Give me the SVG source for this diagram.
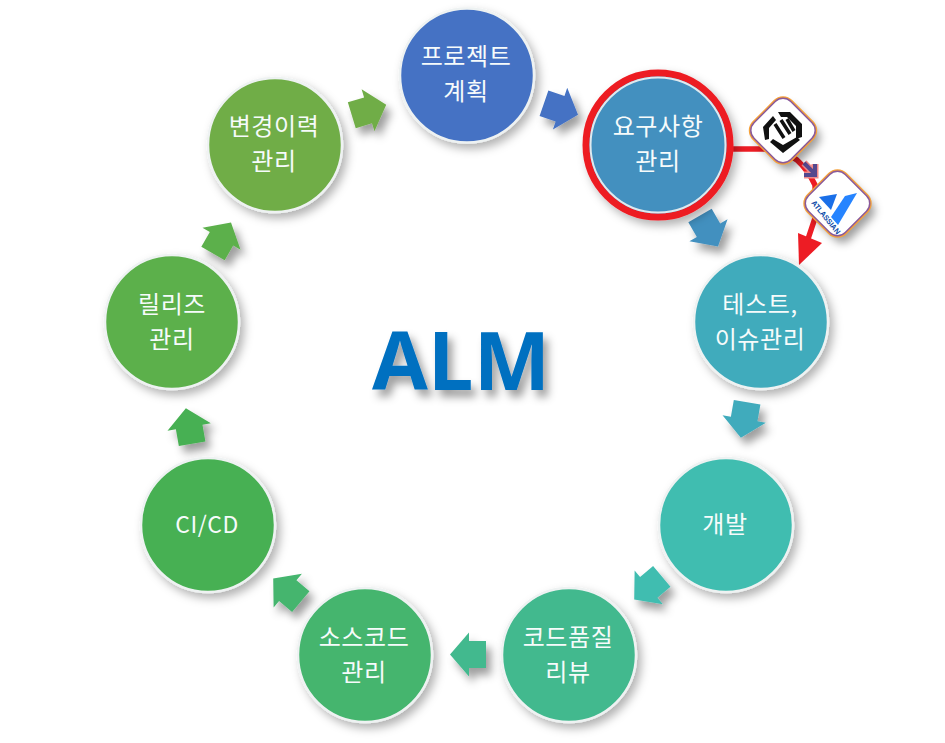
<svg xmlns="http://www.w3.org/2000/svg" width="945" height="743" viewBox="0 0 945 743">
<defs>
<filter id="sh" x="-30%" y="-30%" width="170%" height="170%"><feDropShadow dx="4" dy="5" stdDeviation="5" flood-color="#000" flood-opacity="0.3"/></filter>
<filter id="sht" x="-30%" y="-30%" width="170%" height="170%"><feDropShadow dx="5" dy="7" stdDeviation="4.5" flood-color="#000" flood-opacity="0.38"/></filter>
<path id="arw" d="M-18,-13.5L-1,-13.5L-1,-22L18,0L-1,22L-1,13.5L-18,13.5Z"/>
<style>
text{font-family:"Noto Sans CJK KR","Noto Sans",sans-serif;font-size:24px;font-weight:400;letter-spacing:.6px;fill:#f6fbfb;text-anchor:middle}
.c{stroke:#eef2f2;stroke-width:2.5;filter:url(#sh)}
.a{filter:url(#sht)}
.d{fill:#fff;stroke:#8a5a9a;stroke-width:1.5}
.glow{fill:none;stroke:#f5a13a;stroke-width:4}
</style>
</defs>
<rect width="945" height="743" fill="#fff"/>
<g id="connectors">
<g class="a"><use href="#arw" fill="#70ad47" transform="translate(369,110) rotate(-17)"/></g>
<g class="a"><use href="#arw" fill="#4472c4" transform="translate(561,109) rotate(19)"/></g>
<g class="a"><use href="#arw" fill="#4390bf" transform="translate(709,231) rotate(60)"/></g>
<g class="a"><use href="#arw" fill="#41abbc" transform="translate(744,420) rotate(100)"/></g>
<g class="a"><use href="#arw" fill="#41bdb0" transform="translate(648,588) rotate(140)"/></g>
<g class="a"><use href="#arw" fill="#42b98e" transform="translate(468,654.5) rotate(180)"/></g>
<g class="a"><use href="#arw" fill="#44b56e" transform="translate(287,590) rotate(220)"/></g>
<g class="a"><use href="#arw" fill="#47b052" transform="translate(189,426) rotate(260)"/></g>
<g class="a"><use href="#arw" fill="#5cb04c" transform="translate(222,238) rotate(300)"/></g>
<path d="M731,149H768Q785,151 797,160Q808,170 815,185L816,215L807,242" fill="none" stroke="#ed1c24" stroke-width="5.5"/>
<path d="M798,233L822,243L799,265Z" fill="#ed1c24"/>
<path d="M804,163L815,174M815,164V175H804" fill="none" stroke="#f08a8a" stroke-width="7"/>
<path d="M804,163L815,174M815,164V175H804" fill="none" stroke="#54488e" stroke-width="4"/>
</g>
<g id="n1"><circle class="c" cx="467" cy="75.500" r="67" fill="#4472c4"/><text x="466" y="65">프로젝트</text><text x="466" y="100">계획</text></g>
<g id="n2"><circle class="c" cx="658" cy="145" r="72" fill="#4390bf" style="stroke:#ed1c24;stroke-width:7"/><circle cx="658" cy="145" r="67.500" fill="#4390bf" stroke="#dfe9ee" stroke-width="2"/><text x="658" y="135">요구사항</text><text x="658" y="170">관리</text></g>
<g id="n3"><circle class="c" cx="761" cy="322" r="67" fill="#41abbc"/><text x="760" y="313">테스트,</text><text x="760" y="348">이슈관리</text></g>
<g id="n4"><circle class="c" cx="726" cy="525" r="67" fill="#41bdb0"/><text x="725" y="533">개발</text></g>
<g id="n5"><circle class="c" cx="569" cy="655" r="67" fill="#42b98e"/><text x="568" y="646">코드품질</text><text x="568" y="681">리뷰</text></g>
<g id="n6"><circle class="c" cx="365" cy="655" r="67" fill="#44b56e"/><text x="364" y="646">소스코드</text><text x="364" y="681">관리</text></g>
<g id="n7"><circle class="c" cx="208" cy="525" r="67" fill="#47b052"/><text x="207" y="533" style="font-size:23px">CI/CD</text></g>
<g id="n8"><circle class="c" cx="172" cy="322" r="67" fill="#5cb04c"/><text x="172" y="313">릴리즈</text><text x="172" y="348">관리</text></g>
<g id="n9"><circle class="c" cx="275" cy="145" r="67" fill="#70ad47"/><text x="274" y="135">변경이력</text><text x="274" y="170">관리</text></g>
<g id="alm"><text x="461" y="390" class="a" style="font-family:'Open Sans','Liberation Sans',sans-serif;font-size:81px;font-weight:700;letter-spacing:0;fill:#0070c0">ALM</text></g>
<g id="icon1">
<g class="a"><rect x="-26" y="-26" width="52" height="52" rx="11" transform="translate(783,130.500) rotate(45)" fill="#fff"/></g>
<rect x="-26" y="-26" width="52" height="52" rx="11" transform="translate(783,130.500) rotate(45)" class="glow"/>
<rect x="-26" y="-26" width="52" height="52" rx="11" transform="translate(783,130.500) rotate(45)" class="d"/>
<path fill="#111" d="M778,112H790L802,124V137L796,139V126L787,117H781Z"/>
<path fill="#111" d="M770,142L783,153L800,140L797,137L783,145L773,139Z"/>
<path fill="#111" d="M763,127L773,116L776,120L769,128V139L765,140Z"/>
<path fill="none" stroke="#111" stroke-width="3.500" d="M775,124L784,138M781,120L790,134M787,119L794,131"/>
</g>
<g id="icon2">
<g class="a"><rect x="-26" y="-26" width="52" height="52" rx="11" transform="translate(837.500,203.500) rotate(45)" fill="#fff"/></g>
<rect x="-26" y="-26" width="52" height="52" rx="11" transform="translate(837.500,203.500) rotate(45)" class="glow"/>
<rect x="-26" y="-26" width="52" height="52" rx="11" transform="translate(837.500,203.500) rotate(45)" class="d"/>
<path d="M845,196L857,193L838,225L831,217Z" fill="#2684ff"/>
<path d="M819,197L837,194L831,210Z" fill="#1a6fe8"/>
<text transform="translate(811,203) rotate(51)" textLength="41" style="font-family:'Liberation Sans',sans-serif;font-size:7.500px;font-weight:700;letter-spacing:0;fill:#0747a6;text-anchor:start">ATLASSIAN</text>
</g>
</svg>
